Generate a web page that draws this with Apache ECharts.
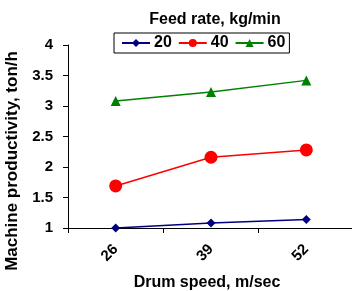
<!DOCTYPE html>
<html>
<head>
<meta charset="utf-8">
<script src="https://cdn.jsdelivr.net/npm/echarts@6/dist/echarts.min.js"></script>
<style>
  html, body { margin: 0; padding: 0; background: #fff; }
  #chart { width: 352px; height: 291px; }
</style>
</head>
<body>
<div id="chart"></div>
<script>
// Drum speed categories and productivity per feed rate
const drumSpeeds = ['26', '39', '52'];
const feedRates = ['20', '40', '60'];
const rate20 = [1.0, 1.08, 1.14];
const rate40 = [1.69, 2.16, 2.28];
const rate60 = [3.08, 3.23, 3.42];
const yTicks = [1, 1.5, 2, 2.5, 3, 3.5, 4];

const chart = echarts.init(document.getElementById('chart'));
const font = 'Liberation Sans, Arial, sans-serif';

chart.setOption({
    animation: false,
    backgroundColor: '#fff',
    title: {
        text: 'Feed rate, kg/min',
        left: 210,
        textAlign: 'center',
        top: 7,
        textStyle: { fontFamily: font, fontSize: 16, fontWeight: 'bold', color: '#000' }
    },
    legend: {
        data: feedRates,
        left: 114,
        top: 33,
        width: 171,
        height: 21,
        padding: [2, 4, 2, 7],
        itemGap: 6,
        itemWidth: 28,
        itemHeight: 10,
        borderColor: '#000',
        borderWidth: 1,
        textStyle: { fontFamily: font, fontSize: 16, fontWeight: 'bold', color: '#000', padding: [0, 0, 0, -1] }
    },
    grid: {
        left: 68,
        top: 45,
        width: 286,
        height: 183,
        outerBoundsMode: 'none'
    },
    xAxis: {
        type: 'category',
        data: drumSpeeds,
        name: 'Drum speed, m/sec',
        nameLocation: 'middle',
        nameGap: 47,
        nameTextStyle: { fontFamily: font, fontSize: 16, fontWeight: 'bold', color: '#000', padding: [0, 8, 0, 0] },
        axisLine: { lineStyle: { color: '#000', width: 1 } },
        axisTick: { show: true, inside: false, length: 5, lineStyle: { color: '#000' } },
        axisLabel: { rotate: 45, margin: 19, fontFamily: font, fontSize: 15, fontWeight: 'bold', color: '#000' }
    },
    yAxis: {
        type: 'value',
        min: 1,
        max: 4,
        interval: 0.5,
        name: 'Machine productivity, ton/h',
        nameLocation: 'middle',
        nameGap: 35,
        nameTextStyle: { fontFamily: font, fontSize: 17, fontWeight: 'bold', color: '#000', padding: [0, 49, 0, 0] },
        axisLine: { show: true, lineStyle: { color: '#000', width: 1 } },
        axisTick: { show: true, inside: false, length: 5, lineStyle: { color: '#000' } },
        splitLine: { show: false },
        axisLabel: {
            margin: 15,
            fontFamily: font,
            fontSize: 15,
            fontWeight: 'bold',
            color: '#000',
            formatter: v => yTicks.includes(v) ? String(v) : ''
        }
    },
    series: [
        {
            name: feedRates[0],
            type: 'line',
            data: rate20,
            symbol: 'diamond',
            symbolSize: 9,
            lineStyle: { color: '#000080', width: 1.5 },
            itemStyle: { color: '#000080' }
        },
        {
            name: feedRates[1],
            type: 'line',
            data: rate40,
            symbol: 'circle',
            symbolSize: 13,
            lineStyle: { color: '#ff0000', width: 1.5 },
            itemStyle: { color: '#ff0000' }
        },
        {
            name: feedRates[2],
            type: 'line',
            data: rate60,
            symbol: 'triangle',
            symbolSize: 10,
            lineStyle: { color: '#008000', width: 1.5 },
            itemStyle: { color: '#008000' }
        }
    ]
});
</script>
</body>
</html>
